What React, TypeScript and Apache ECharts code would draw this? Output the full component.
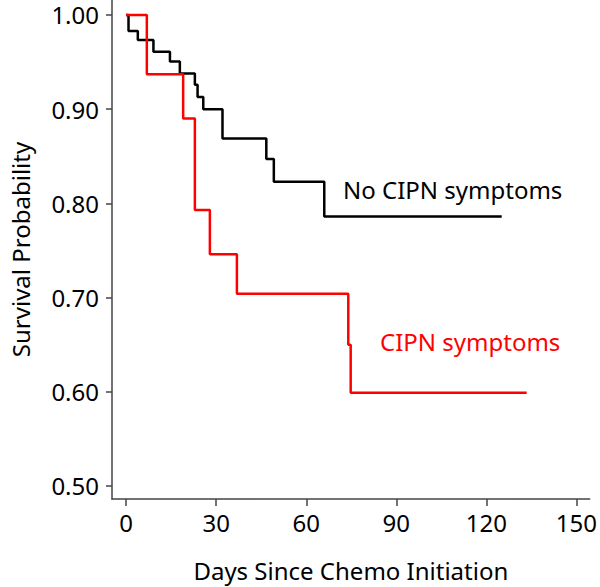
import React, { useEffect, useRef } from "react";
import * as echarts from "echarts";

const noCipnSeries: [number, number][] = [
  [0, 1.0], [0.8, 0.983], [3.9, 0.9735], [9.1, 0.961], [14.6, 0.9505],
  [17.9, 0.938], [22.9, 0.926], [23.8, 0.913], [25.7, 0.9], [32.1, 0.869],
  [46.7, 0.847], [49.2, 0.823], [66.0, 0.786], [125.1, 0.786],
];
const cipnSeries: [number, number][] = [
  [0, 1.0], [6.9, 0.937], [19.0, 0.89], [22.9, 0.793], [27.9, 0.746],
  [36.9, 0.704], [74.0, 0.65], [74.8, 0.599], [133.4, 0.599],
];
const xTicks = [0, 30, 60, 90, 120, 150];
const yTicks = [0.5, 0.6, 0.7, 0.8, 0.9, 1.0];
const seriesNames = ["No CIPN symptoms", "CIPN symptoms"];
const xTitle = "Days Since Chemo Initiation";
const yTitle = "Survival Probability";

const FONT = "Noto Sans";
const FS = 24;

export default function App() {
  const ref = useRef<HTMLDivElement>(null);
  useEffect(() => {
    document.body.style.margin = "0";
    if (!ref.current) return;
    const chart = echarts.init(ref.current, undefined, { renderer: "svg" });
    const axisColor = "#444";
    chart.setOption({
      animation: false,
      backgroundColor: "#fff",
      grid: { left: 110, right: 10, top: 0, bottom: 87, containLabel: false },
      xAxis: {
        type: "value",
        min: -4.7,
        max: 154.4,
        name: xTitle,
        nameLocation: "middle",
        nameGap: 59,
        nameTextStyle: { fontFamily: FONT, fontSize: FS, color: "#000" },
        axisLine: { show: true, onZero: false, lineStyle: { color: axisColor, width: 1.5 } },
        axisTick: { show: true, inside: false, length: 7, customValues: xTicks, lineStyle: { color: axisColor, width: 1.5 } },
        axisLabel: { customValues: xTicks, fontFamily: FONT, fontSize: FS, color: "#000", margin: 11 },
        splitLine: { show: false },
      },
      yAxis: {
        type: "value",
        min: 0.4862,
        max: 1.0159,
        name: yTitle,
        nameLocation: "middle",
        nameGap: 80,
        nameTextStyle: { fontFamily: FONT, fontSize: FS, color: "#000" },
        axisLine: { show: true, onZero: false, lineStyle: { color: axisColor, width: 1.5 } },
        axisTick: { show: true, inside: false, length: 6, customValues: yTicks, lineStyle: { color: axisColor, width: 1.5 } },
        axisLabel: {
          customValues: yTicks,
          fontFamily: FONT,
          fontSize: FS,
          lineHeight: 24,
          color: "#000",
          margin: 13,
          formatter: (v: number) => v.toFixed(2),
        },
        splitLine: { show: false },
      },
      series: [
        {
          name: seriesNames[0],
          type: "line",
          step: "end",
          data: noCipnSeries,
          showSymbol: false,
          symbol: "none",
          lineStyle: { color: "#000", width: 2.5 },
          z: 3,
        },
        {
          name: seriesNames[1],
          type: "line",
          step: "end",
          data: cipnSeries,
          showSymbol: false,
          symbol: "none",
          lineStyle: { color: "#ff0000", width: 2.5 },
          z: 4,
        },
      ],
      graphic: [
        {
          type: "text",
          x: 343,
          y: 189,
          style: { text: seriesNames[0], fontFamily: FONT, fontSize: FS, fill: "#000", verticalAlign: "middle" },
        },
        {
          type: "text",
          x: 380,
          y: 341,
          style: { text: seriesNames[1], fontFamily: FONT, fontSize: FS, fill: "#ff0000", verticalAlign: "middle" },
        },
      ],
    });
    return () => chart.dispose();
  }, []);
  return <div ref={ref} style={{ width: 600, height: 587 }} />;
}
